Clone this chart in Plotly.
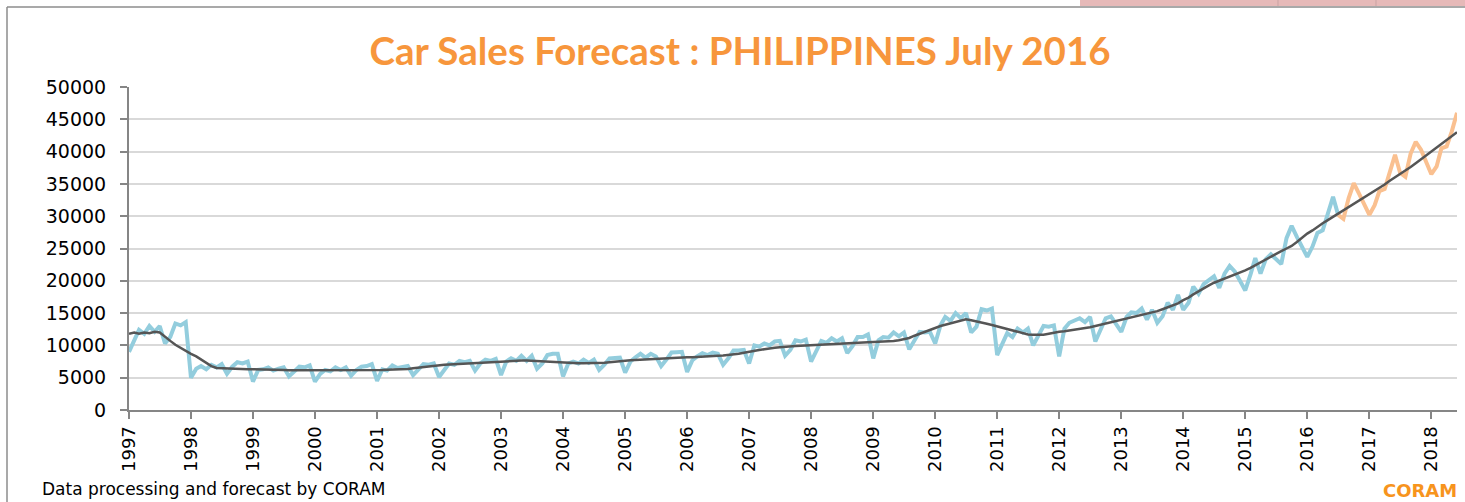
import pandas as pd
import plotly.graph_objects as go

# ---------------- data (monthly) ----------------
start_month = "1997-01-01"

# Actual sales (blue), Jan 1997 .. Jul 2016
actual_sales = [
    9000, 10700, 12400, 11800, 13000, 12100, 13000, 10300, 11300, 13400, 13100, 13600,   # 1997
    5000, 6400, 6800, 6300, 7000, 6600, 7100, 5600, 6700, 7400, 7200, 7500,              # 1998
    4400, 6200, 6300, 6600, 6100, 6400, 6600, 5200, 5900, 6700, 6600, 6900,              # 1999
    4400, 5600, 6200, 6000, 6600, 6200, 6600, 5300, 6200, 6700, 6800, 7100,              # 2000
    4500, 6300, 6100, 6900, 6500, 6700, 6800, 5400, 6300, 7100, 7000, 7200,              # 2001
    5100, 6300, 7200, 7000, 7600, 7400, 7600, 6100, 7200, 7800, 7600, 7900,              # 2002
    5400, 7500, 8000, 7600, 8400, 7600, 8400, 6400, 7200, 8500, 8700, 8700,              # 2003
    5200, 7200, 7500, 7200, 7800, 7300, 7800, 6200, 7000, 8000, 8100, 8100,              # 2004
    5800, 7500, 8100, 8700, 8100, 8700, 8300, 6800, 7800, 8900, 8950, 9000,              # 2005
    5900, 7700, 8300, 8800, 8500, 8900, 8700, 7000, 8000, 9200, 9200, 9300,              # 2006
    7200, 10000, 9800, 10300, 10000, 10600, 10700, 8400, 9300, 10800, 10600, 10900,      # 2007
    7500, 9300, 10700, 10400, 11100, 10600, 11100, 8800, 9900, 11300, 11300, 11700,      # 2008
    8000, 10800, 11300, 11200, 12000, 11400, 12000, 9400, 10800, 12100, 12000, 12100,    # 2009
    10300, 13100, 14400, 13800, 15000, 14200, 15000, 12000, 12900, 15600, 15400, 15700,  # 2010
    8500, 10200, 11900, 11300, 12600, 12000, 12600, 10000, 11600, 13000, 12900, 13100,   # 2011
    8300, 12600, 13500, 13900, 14200, 13600, 14400, 10600, 12400, 14200, 14500, 13300,   # 2012
    12100, 14400, 15100, 15000, 15700, 14000, 15500, 13500, 14500, 16600, 15500, 17800,  # 2013
    15500, 16600, 19100, 18000, 19500, 20100, 20700, 18900, 21100, 22300, 21400, 20000,  # 2014
    18500, 21000, 23500, 21100, 23300, 24100, 23400, 22600, 26600, 28500, 26800, 25300,  # 2015
    23700, 25300, 27400, 27800, 30400, 33000, 30200,                                      # 2016 Jan-Jul
]

# Forecast (orange), Jul 2016 .. Jun 2018
forecast_start = "2016-07-01"
forecast_sales = [
    30200, 29600, 32800, 35100, 33500, 31800,                                             # 2016 Jul-Dec
    30200, 31700, 33900, 34200, 36800, 39500, 36700, 36100, 39700, 41500, 40300, 38500,   # 2017
    36500, 37700, 40500, 40800, 43100, 46000,                                             # 2018 Jan-Jun
]

# Trend (dark grey), Jan 1997 .. Jun 2018
trend_values = [
    11800, 12000, 11800, 12000, 11900, 12100, 12000, 11300, 10700, 10100, 9600, 9100,     # 1997
    8700, 8300, 7800, 7200, 6800, 6500, 6450, 6400, 6400, 6350, 6350, 6300,               # 1998
    6300, 6300, 6250, 6250, 6200, 6200, 6200, 6150, 6150, 6150, 6100, 6100,               # 1999
    6100, 6100, 6100, 6100, 6100, 6150, 6150, 6150, 6150, 6200, 6200, 6200,               # 2000
    6200, 6200, 6250, 6250, 6300, 6300, 6350, 6450, 6550, 6700, 6800, 6900,               # 2001
    6950, 7000, 7050, 7100, 7150, 7200, 7250, 7300, 7350, 7400, 7450, 7500,               # 2002
    7550, 7600, 7650, 7650, 7650, 7650, 7600, 7550, 7500, 7450, 7400, 7350,               # 2003
    7330, 7300, 7280, 7250, 7230, 7230, 7230, 7250, 7300, 7400, 7500, 7600,               # 2004
    7640, 7700, 7750, 7800, 7850, 7900, 7950, 8000, 8050, 8080, 8100, 8130,               # 2005
    8160, 8180, 8200, 8250, 8300, 8350, 8400, 8450, 8500, 8600, 8700, 8850,               # 2006
    9030, 9150, 9280, 9400, 9540, 9620, 9700, 9800, 9850, 9900, 9950, 10000,              # 2007
    10030, 10060, 10100, 10150, 10200, 10250, 10300, 10340, 10380, 10420, 10460, 10500,   # 2008
    10530, 10560, 10600, 10650, 10700, 10800, 10950, 11150, 11500, 11800, 12130, 12400,   # 2009
    12700, 13000, 13200, 13400, 13600, 13800, 14040, 13900, 13750, 13550, 13350, 13150,   # 2010
    12950, 12700, 12500, 12300, 12100, 11900, 11700, 11650, 11600, 11650, 11800, 12000,   # 2011
    12100, 12200, 12300, 12400, 12500, 12650, 12800, 13000, 13200, 13400, 13600, 13750,   # 2012
    13900, 14100, 14300, 14500, 14700, 14900, 15100, 15300, 15600, 15900, 16200, 16500,   # 2013
    17000, 17400, 17900, 18400, 18900, 19300, 19700, 20000, 20300, 20600, 20900, 21200,   # 2014
    21600, 22000, 22400, 22900, 23400, 23800, 24200, 24600, 25000, 25400, 26000, 26700,   # 2015
    27300, 27800, 28400, 28900, 29400, 29900, 30500, 30900, 31400, 31900, 32400, 32900,   # 2016
    33400, 33900, 34400, 34900, 35500, 36000, 36500, 37000, 37600, 38200, 38800, 39400,   # 2017
    40000, 40600, 41200, 41800, 42400, 43000,                                             # 2018 Jan-Jun
]

year_labels = [str(y) for y in range(1997, 2019)]
y_ticks = list(range(0, 50001, 5000))

# ---------------- figure ----------------
actual_dates = pd.date_range(start_month, periods=len(actual_sales), freq="MS")
forecast_dates = pd.date_range(forecast_start, periods=len(forecast_sales), freq="MS")
trend_dates = pd.date_range(start_month, periods=len(trend_values), freq="MS")
year_ticks = [f"{y}-01-01" for y in year_labels]

W, H = 1465, 502
L, R, T, B = 129, 8, 87, 92
pw, ph = W - L - R, H - T - B


def px(x):
    return (x - L) / pw


def py(y):
    return (H - B - y) / ph


fig = go.Figure()
fig.add_trace(go.Scatter(x=actual_dates, y=actual_sales, mode="lines",
                         line=dict(color="#93CDDD", width=4), name="Sales"))
fig.add_trace(go.Scatter(x=forecast_dates, y=forecast_sales, mode="lines",
                         line=dict(color="#FAC090", width=4), name="Forecast"))
fig.add_trace(go.Scatter(x=trend_dates, y=trend_values, mode="lines",
                         line=dict(color="#555555", width=2.5), name="Trend"))

axis_col = "#868686"
fig.update_layout(
    width=W, height=H,
    margin=dict(l=L, r=R, t=T, b=B),
    paper_bgcolor="white", plot_bgcolor="white",
    showlegend=False,
    title=dict(text="<b>Car Sales Forecast : PHILIPPINES July 2016</b>",
               font=dict(family="Liberation Sans Narrow, Lato, sans-serif", size=38.5, color="#F7963C"),
               xref="container", x=740 / W, xanchor="center",
               yref="container", y=1 - 52 / H, yanchor="middle"),
    xaxis=dict(type="date", range=["1997-01-01", "2018-06-01"],
               tickvals=year_ticks, ticktext=year_labels, tickangle=-90,
               tickfont=dict(family="DejaVu Sans", size=18, color="#000000"),
               showgrid=False, zeroline=False,
               showline=True, linecolor=axis_col, linewidth=2,
               ticks="outside", ticklen=7, tickwidth=2, tickcolor=axis_col),
    yaxis=dict(range=[0, 50000], tickvals=y_ticks, ticktext=[str(v) for v in y_ticks],
               tickfont=dict(family="DejaVu Sans", size=19, color="#000000"),
               showgrid=True, gridcolor="#D9D9D9", gridwidth=2, zeroline=False,
               showline=True, linecolor=axis_col, linewidth=2,
               ticks="outside", ticklen=7, tickwidth=2, tickcolor=axis_col,
               ticklabelstandoff=10),
)

# chart frame and spreadsheet remnants around it
fig.add_shape(type="rect", xref="paper", yref="paper",
              x0=px(1080), x1=px(1466), y0=py(6), y1=py(-2),
              fillcolor="#E6B9B8", line=dict(width=0), layer="below")
for vx in (1278, 1376):
    fig.add_shape(type="line", xref="paper", yref="paper",
                  x0=px(vx), x1=px(vx), y0=py(6), y1=py(-2),
                  line=dict(color="#C9A3A3", width=1))
fig.add_shape(type="line", xref="paper", yref="paper",
              x0=px(7), x1=px(1466), y0=py(7), y1=py(7),
              line=dict(color="#8C8C8C", width=1.5))
fig.add_shape(type="line", xref="paper", yref="paper",
              x0=px(7), x1=px(7), y0=py(7), y1=py(503),
              line=dict(color="#8C8C8C", width=1.5))

fig.add_annotation(text="Data processing and forecast by CORAM", xref="paper", yref="paper",
                   x=px(40), y=py(489), xanchor="left", yanchor="middle", showarrow=False,
                   font=dict(family="DejaVu Sans", size=17, color="#000000"))
fig.add_annotation(text="<b>CORAM</b>", xref="paper", yref="paper",
                   x=px(1459), y=py(490), xanchor="right", yanchor="middle", showarrow=False,
                   font=dict(family="DejaVu Sans", size=18, color="#F7941D"))

fig.write_html("out.html", config={"displayModeBar": False},
               post_script="document.body.style.margin='0';document.body.style.overflow='hidden';")
